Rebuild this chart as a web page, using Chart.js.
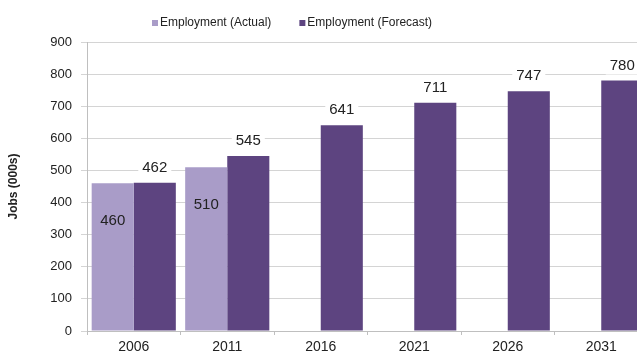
<!DOCTYPE html>
<html>
<head>
<meta charset="utf-8">
<script src="https://cdn.jsdelivr.net/npm/chart.js@4/dist/chart.umd.min.js"></script>
<style>
    html, body { margin: 0; padding: 0; background: #fff; overflow: hidden; }
    #wrap { width: 660px; height: 354px; }
</style>
</head>
<body>
<div id="wrap"><canvas id="jobsChart"></canvas></div>
<script>
const years = ['2006', '2011', '2016', '2021', '2026', '2031'];
const actualJobs = [460, 510, null, null, null, null];
const forecastJobs = [462, 545, 641, 711, 747, 780];
const yTicks = [0, 100, 200, 300, 400, 500, 600, 700, 800, 900];

const LIGHT = '#a99cc8';
const DARK = '#5d4480';
const FONT = '"Liberation Sans", Arial, sans-serif';

// values on the bars: actual inside near the top, forecast above on a white box
const barLabels = {
    id: 'barLabels',
    afterDatasetsDraw(chart) {
        const ctx = chart.ctx;
        ctx.save();
        ctx.font = '15px ' + FONT;
        ctx.textAlign = 'center';
        ctx.textBaseline = 'middle';
        chart.data.datasets.forEach(function (ds, i) {
            const meta = chart.getDatasetMeta(i);
            meta.data.forEach(function (bar, j) {
                const v = ds.data[j];
                if (v == null) return;
                const txt = String(v);
                if (i === 0) {
                    ctx.fillStyle = '#222';
                    ctx.fillText(txt, bar.x, bar.y + 38);
                } else {
                    const w = ctx.measureText(txt).width + 8;
                    const y = bar.y - 15;
                    ctx.fillStyle = '#fff';
                    ctx.fillRect(bar.x - w / 2, y - 9, w, 18);
                    ctx.fillStyle = '#222';
                    ctx.fillText(txt, bar.x, y);
                }
            });
        });
        ctx.restore();
    }
};

// small legend row above the plot, drawn from the dataset labels/colours
const topLegend = {
    id: 'topLegend',
    afterDraw(chart) {
        const ctx = chart.ctx;
        ctx.save();
        ctx.font = '12px ' + FONT;
        ctx.textBaseline = 'middle';
        let x = 152;
        const y = 23;
        chart.data.datasets.forEach(function (ds) {
            ctx.fillStyle = ds.backgroundColor;
            ctx.fillRect(x, y - 3, 6, 6);
            ctx.fillStyle = '#222';
            ctx.fillText(ds.label, x + 8, y);
            x += 8 + ctx.measureText(ds.label).width + 28;
        });
        ctx.restore();
    }
};

const ctx = document.getElementById('jobsChart');
new Chart(ctx, {
    type: 'bar',
    data: {
        labels: years,
        datasets: [
            {
                label: 'Employment (Actual)',
                backgroundColor: LIGHT,
                data: actualJobs
            },
            {
                label: 'Employment (Forecast)',
                backgroundColor: DARK,
                data: forecastJobs
            }
        ]
    },
    options: {
        responsive: true,
        maintainAspectRatio: false,
        animation: false,
        layout: { padding: { top: 42, right: 12, bottom: 0, left: 0 } },
        datasets: {
            bar: { categoryPercentage: 0.9, barPercentage: 1.0 }
        },
        plugins: {
            tooltip: { enabled: false },
            legend: { display: false }
        },
        scales: {
            x: {
                offset: true,
                grid: {
                    offset: true,
                    drawOnChartArea: false,
                    drawTicks: true,
                    tickLength: 4,
                    color: '#bfbfbf'
                },
                border: { color: '#bfbfbf' },
                ticks: {
                    font: { family: FONT, size: 14 },
                    color: '#222',
                    padding: 4
                },
                afterFit(scale) { scale.height = 23; }
            },
            y: {
                min: 0,
                max: 900,
                afterBuildTicks(scale) {
                    scale.ticks = yTicks.map(v => ({ value: v }));
                },
                grid: { color: '#d4d4d4', tickLength: 6 },
                border: { color: '#bfbfbf' },
                ticks: {
                    font: { family: FONT, size: 13 },
                    color: '#222',
                    padding: 9
                },
                title: {
                    display: true,
                    text: 'Jobs (000s)',
                    font: { family: FONT, size: 12, weight: 'bold' },
                    color: '#222',
                    padding: { top: 6, bottom: 0 }
                },
                afterFit(scale) { scale.width = 87; }
            }
        }
    },
    plugins: [barLabels, topLegend]
});
</script>
</body>
</html>
